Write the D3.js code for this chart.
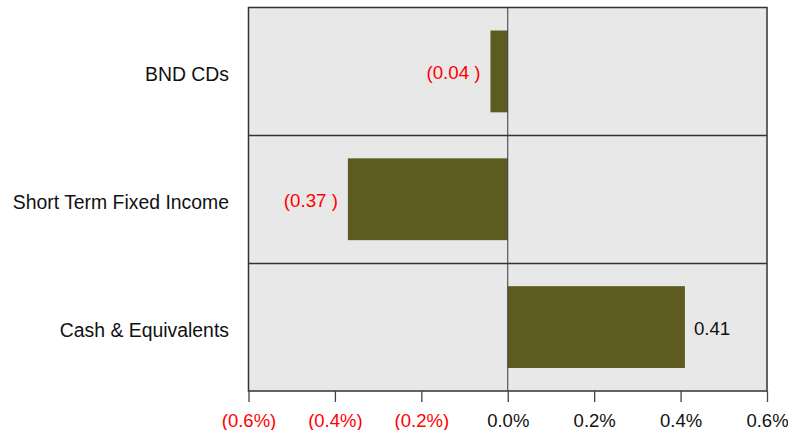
<!DOCTYPE html>
<html>
<head>
<meta charset="utf-8">
<script src="https://cdn.jsdelivr.net/npm/d3@7"></script>
<style>
  html, body { margin: 0; padding: 0; background: #ffffff; }
  svg { display: block; font-family: "Liberation Sans", Arial, sans-serif; }
</style>
</head>
<body>
<svg id="chart" width="788" height="430"></svg>
<script>
// Contribution by holding, in percent
const categories = ["BND CDs", "Short Term Fixed Income", "Cash & Equivalents"];
const values = [-0.04, -0.37, 0.41];
const tickValues = [-0.6, -0.4, -0.2, 0.0, 0.2, 0.4, 0.6];

const svg = d3.select("#chart");
const plot = { left: 248.5, right: 767, top: 7.5, bottom: 391 };

const x = d3.scaleLinear().domain([-0.6, 0.6]).range([plot.left, plot.right]);
const y = d3.scaleBand().domain(categories).range([plot.top, plot.bottom]).paddingInner(0).paddingOuter(0);

const barFrac = 0.64;
const negColor = "#ff0000";

// panel background
svg.append("rect")
  .attr("x", plot.left).attr("y", plot.top)
  .attr("width", plot.right - plot.left).attr("height", plot.bottom - plot.top)
  .attr("fill", "#e8e8e8");

// bars
svg.append("g").selectAll("rect")
  .data(categories)
  .join("rect")
  .attr("x", (d, i) => x(Math.min(0, values[i])))
  .attr("width", (d, i) => Math.abs(x(values[i]) - x(0)))
  .attr("y", d => y(d) + y.bandwidth() * (1 - barFrac) / 2)
  .attr("height", y.bandwidth() * barFrac)
  .attr("fill", "#5d5b20");

// zero line
svg.append("line")
  .attr("x1", x(0)).attr("x2", x(0))
  .attr("y1", plot.top).attr("y2", plot.bottom)
  .attr("stroke", "#3a3a3a").attr("stroke-width", 1);

// band separators
svg.append("g").selectAll("line")
  .data(categories.slice(1))
  .join("line")
  .attr("x1", plot.left).attr("x2", plot.right)
  .attr("y1", d => Math.round(y(d)) + 0.5).attr("y2", d => Math.round(y(d)) + 0.5)
  .attr("stroke", "#333").attr("stroke-width", 1.3);

// panel border
svg.append("rect")
  .attr("x", plot.left).attr("y", plot.top)
  .attr("width", plot.right - plot.left).attr("height", plot.bottom - plot.top)
  .attr("fill", "none").attr("stroke", "#333").attr("stroke-width", 1.5);

// category labels
svg.append("g").selectAll("text")
  .data(categories)
  .join("text")
  .attr("x", 229)
  .attr("y", d => y(d) + y.bandwidth() / 2 + 10)
  .attr("text-anchor", "end")
  .attr("font-size", 19.4)
  .attr("fill", "#111")
  .text(d => d);

// value labels
const fmtVal = v => v < 0 ? "(" + d3.format(".2f")(-v) + " )" : d3.format(".2f")(v);
svg.append("g").selectAll("text")
  .data(categories)
  .join("text")
  .attr("x", (d, i) => values[i] < 0 ? x(values[i]) - 10 : x(values[i]) + 9)
  .attr("y", d => y(d) + y.bandwidth() / 2 + 8)
  .attr("text-anchor", (d, i) => values[i] < 0 ? "end" : "start")
  .attr("font-size", 18.7)
  .attr("fill", (d, i) => values[i] < 0 ? negColor : "#111")
  .text((d, i) => fmtVal(values[i]));

// x axis
const fmtTick = v => {
  const s = d3.format(".1f")(Math.abs(v)) + "%";
  return v < -1e-9 ? "(" + s + ")" : s;
};
const axis = d3.axisBottom(x).tickValues(tickValues).tickFormat(fmtTick).tickSize(11).tickPadding(8);
const gx = svg.append("g").attr("transform", `translate(0,${plot.bottom})`).call(axis);
gx.select(".domain").remove();
gx.selectAll(".tick line").attr("stroke", "#444").attr("stroke-width", 1.3);
gx.selectAll(".tick text")
  .attr("y", 35.5)
  .attr("dy", null)
  .attr("font-size", 18.5)
  .attr("font-family", "Liberation Sans, Arial, sans-serif")
  .attr("fill", d => d < -1e-9 ? negColor : "#111");
</script>
</body>
</html>
